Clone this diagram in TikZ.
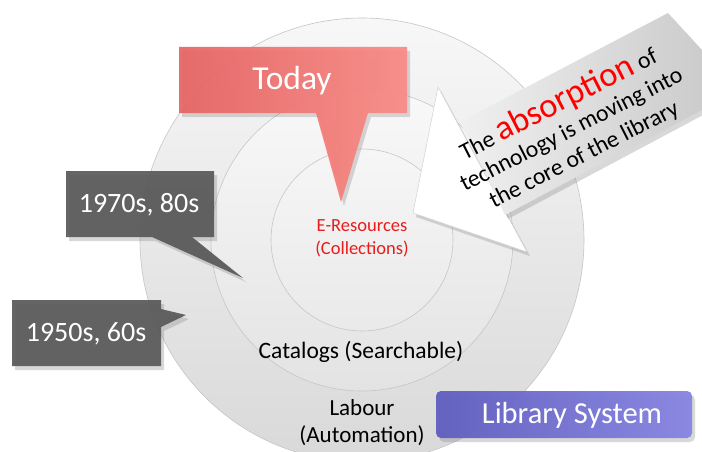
\documentclass[tikz,border=0pt]{standalone}
\usepackage{fontspec}
\setmainfont{Carlito}
\usetikzlibrary{shadows}
\definecolor{todayL}{RGB}{232,98,98}
\definecolor{todayR}{RGB}{250,138,132}
\definecolor{darkbox}{RGB}{88,88,88}
\definecolor{libL}{RGB}{96,94,192}
\definecolor{libR}{RGB}{134,132,226}
\definecolor{redtxt}{RGB}{232,28,28}
\newcommand\myfs[2]{\fontsize{#1}{#2}\selectfont}
\tikzset{
  ring/.style={draw=gray!45, line width=0.6pt},
  softshadow/.style={drop shadow={opacity=0.3, shadow xshift=3pt, shadow yshift=-4pt}},
  calloutdark/.style={fill=darkbox, fill opacity=0.92, softshadow},
  whitetext/.style={text=white, inner sep=0pt}
}
\begin{document}
\begin{tikzpicture}[x=1pt,y=-1pt]
\useasboundingbox (0,0) rectangle (702,452);
\clip (0,0) rectangle (702,452);
% concentric circles
\coordinate (c) at (362,240);
\fill[white] (0,0) rectangle (702,452);
\shade[ring, top color=gray!6, bottom color=gray!30] (c) circle[radius=222];
\shade[ring, top color=gray!5, bottom color=gray!22] (c) circle[radius=151];
\shade[ring, top color=gray!7, bottom color=gray!17] (c) circle[radius=91];
% circle labels
\node[text=redtxt, align=center, font=\myfs{18.5}{23}] (eres) at (362,238) {E-Resources\\(Collections)};
\node[font=\myfs{23.5}{27}] (cat) at (361,352) {Catalogs (Searchable)};
\node[align=center, font=\myfs{23}{27}] (lab) at (362,423) {Labour\\(Automation)};
% white arrow head
\path[fill=white, draw=gray!35, line width=0.5pt, softshadow]
  (438,87) -- (527,252) -- (413,213) -- cycle;
% grey text box
\path[left color=gray!12, right color=gray!40, softshadow] (460,122) -- (668,13) -- (702,50) -- (702,110) -- (505,215) -- cycle;
\node[rotate=27, align=center, inner sep=0pt, font=\myfs{23.7}{28}] (abstext) at (570,127)
  {The {\color{red}\myfs{34.5}{34.5}absorption} of\\technology is moving into\\the core of the library};
% Today callout
\path[left color=todayL, right color=todayR, fill opacity=0.92, softshadow]
  (179,47) -- (407,47) -- (407,113) -- (368,113) -- (341,202) -- (316,113) -- (179,113) -- cycle;
\node[whitetext, font=\myfs{33.5}{33.5}] (today) at (292,81) {Today};
% 1970s callout
\path[calloutdark]
  (66,171) -- (214,171) -- (214,237) -- (192,237) -- (243,278) -- (152,237) -- (66,237) -- cycle;
\node[whitetext, font=\myfs{28}{28}] (t70) at (139,205) {1970s, 80s};
% 1950s callout
\path[calloutdark]
  (12,300) -- (161,300) -- (161,309) -- (186,315) -- (161,327) -- (161,366) -- (12,366) -- cycle;
\node[whitetext, font=\myfs{28}{28}] (t50) at (86,334) {1950s, 60s};
% Library System
\path[left color=libL, right color=libR, rounded corners=5pt, fill opacity=0.95, softshadow]
  (436,391) rectangle (692,438);
\node[whitetext, font=\myfs{30.5}{30.5}] (lib) at (572,415) {Library System};
\end{tikzpicture}
\end{document}
